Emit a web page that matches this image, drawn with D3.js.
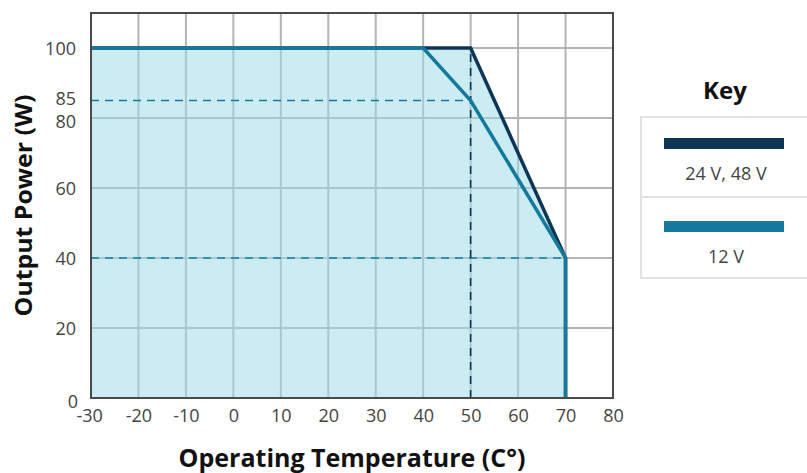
<!DOCTYPE html>
<html>
<head>
<meta charset="utf-8">
<script src="https://cdn.jsdelivr.net/npm/d3@7"></script>
<style>
  html, body { margin: 0; padding: 0; background: #fff; }
  svg { display: block; font-family: 'Open Sans', 'Noto Sans', sans-serif; }
</style>
</head>
<body>
<div id="chart"></div>
<script>
const xTicks = [-30, -20, -10, 0, 10, 20, 30, 40, 50, 60, 70, 80];
const yTicks = [0, 20, 40, 60, 80, 85, 100];
const yGrid = [20, 40, 60, 80, 100];

// derating curves: [temp, watts]
const series24_48 = [[-30, 100], [50, 100], [70, 40], [70, 0]];
const series12 = [[-30, 100], [40, 100], [50, 85], [70, 40], [70, 0]];

// dashed guides
const guide85 = [[-30, 85], [50, 85]];
const guide40 = [[-30, 40], [70, 40]];
const guide50 = [[50, 0], [50, 100]];

const legendItems = [
  { label: '24 V, 48 V', color: '#0c3556' },
  { label: '12 V', color: '#15799b' }
];

const W = 807, H = 473;
const m = { l: 91, r: 194, t: 13, b: 75 };

const svg = d3.select('#chart').append('svg')
  .attr('width', W).attr('height', H);

const x = d3.scaleLinear().domain([-30, 80]).range([m.l, W - m.r]);
const y = d3.scaleLinear().domain([0, 110]).range([H - m.b, m.t]);

const g = svg.append('g');

// vertical grid
g.append('g').selectAll('line').data(xTicks.slice(1, -1)).join('line')
  .attr('x1', d => x(d)).attr('x2', d => x(d))
  .attr('y1', y(0)).attr('y2', y(110))
  .attr('stroke', '#b4b4b4').attr('stroke-width', 2);

// horizontal grid
g.append('g').selectAll('line').data(yGrid).join('line')
  .attr('x1', x(-30)).attr('x2', x(80))
  .attr('y1', d => y(d)).attr('y2', d => y(d))
  .attr('stroke', '#b4b4b4').attr('stroke-width', 2);

// fill under outer envelope
const area = d3.area().x(d => x(d[0])).y0(y(0)).y1(d => y(d[1]));
g.append('path')
  .datum(series24_48)
  .attr('d', area)
  .attr('fill', '#9edbe8')
  .attr('fill-opacity', 0.52);

const line = d3.line().x(d => x(d[0])).y(d => y(d[1]));

// dashed guides
[[guide85, '#15799b'], [guide40, '#15799b'], [guide50, '#0c3556']].forEach(([d, c]) => {
  g.append('path').datum(d).attr('d', line)
    .attr('fill', 'none').attr('stroke', c).attr('stroke-width', 1.6)
    .attr('stroke-dasharray', '8,6');
});

// series
g.append('path').datum(series24_48).attr('d', line)
  .attr('fill', 'none').attr('stroke', legendItems[0].color)
  .attr('stroke-width', 3.5);
g.append('path').datum(series12).attr('d', line)
  .attr('fill', 'none').attr('stroke', legendItems[1].color)
  .attr('stroke-width', 3.5);

// frame
g.append('rect')
  .attr('x', x(-30)).attr('y', y(110))
  .attr('width', x(80) - x(-30)).attr('height', y(0) - y(110))
  .attr('fill', 'none').attr('stroke', '#4a4a4a').attr('stroke-width', 2);

// axes (labels only)
const xAxis = g.append('g').attr('transform', `translate(0,${y(0)})`)
  .call(d3.axisBottom(x).tickValues(xTicks).tickFormat(d => String(d)).tickSize(0).tickPadding(11));
const yAxis = g.append('g').attr('transform', `translate(${x(-30)},0)`)
  .call(d3.axisLeft(y).tickValues(yTicks).tickFormat(d => String(d)).tickSize(0).tickPadding(14));
[xAxis, yAxis].forEach(a => {
  a.select('.domain').remove();
  a.selectAll('text')
    .attr('font-family', "'Open Sans', sans-serif")
    .attr('font-size', 18).attr('fill', '#444');
});
// small nudges like the original (80/85 pulled apart, 0 tucked at the corner)
yAxis.selectAll('text')
  .attr('dy', d => d === 0 ? '0.5em' : d === 80 ? '0.5em' : d === 85 ? '0.22em' : '0.36em')
  .attr('x', d => d === 0 ? -13 : -15);
xAxis.selectAll('text').attr('dx', d => d === -30 ? '-0.1em' : 0);

// axis titles
svg.append('text')
  .attr('x', (x(-30) + x(80)) / 2).attr('y', 467)
  .attr('text-anchor', 'middle')
  .attr('font-size', 25).attr('font-weight', 'bold').attr('fill', '#111')
  .text('Operating Temperature (C°)');
svg.append('text')
  .attr('transform', `translate(32,${(y(0) + y(110)) / 2}) rotate(-90)`)
  .attr('text-anchor', 'middle')
  .attr('font-size', 24).attr('font-weight', 'bold').attr('fill', '#111')
  .attr('textLength', 222).attr('lengthAdjust', 'spacingAndGlyphs')
  .text('Output Power (W)');

// legend
svg.append('text')
  .attr('x', 725).attr('y', 99)
  .attr('text-anchor', 'middle')
  .attr('font-size', 24).attr('font-weight', 'bold').attr('fill', '#111')
  .text('Key');
const lg = svg.append('g').attr('transform', 'translate(641,117)');
lg.append('rect').attr('x', 0).attr('y', 0).attr('width', 180).attr('height', 161)
  .attr('fill', '#fff').attr('stroke', '#e2e2e2').attr('stroke-width', 2);
lg.append('line').attr('x1', 0).attr('x2', 180).attr('y1', 80).attr('y2', 80)
  .attr('stroke', '#e2e2e2').attr('stroke-width', 2);
const items = lg.selectAll('g.item').data(legendItems).join('g')
  .attr('class', 'item')
  .attr('transform', (d, i) => `translate(0,${i * 83})`);
items.append('rect').attr('x', 23).attr('y', 21).attr('width', 120).attr('height', 11)
  .attr('fill', d => d.color);
items.append('text').attr('x', 85).attr('y', 63)
  .attr('text-anchor', 'middle')
  .attr('font-size', 18).attr('fill', '#444')
  .text(d => d.label);
</script>
</body>
</html>
